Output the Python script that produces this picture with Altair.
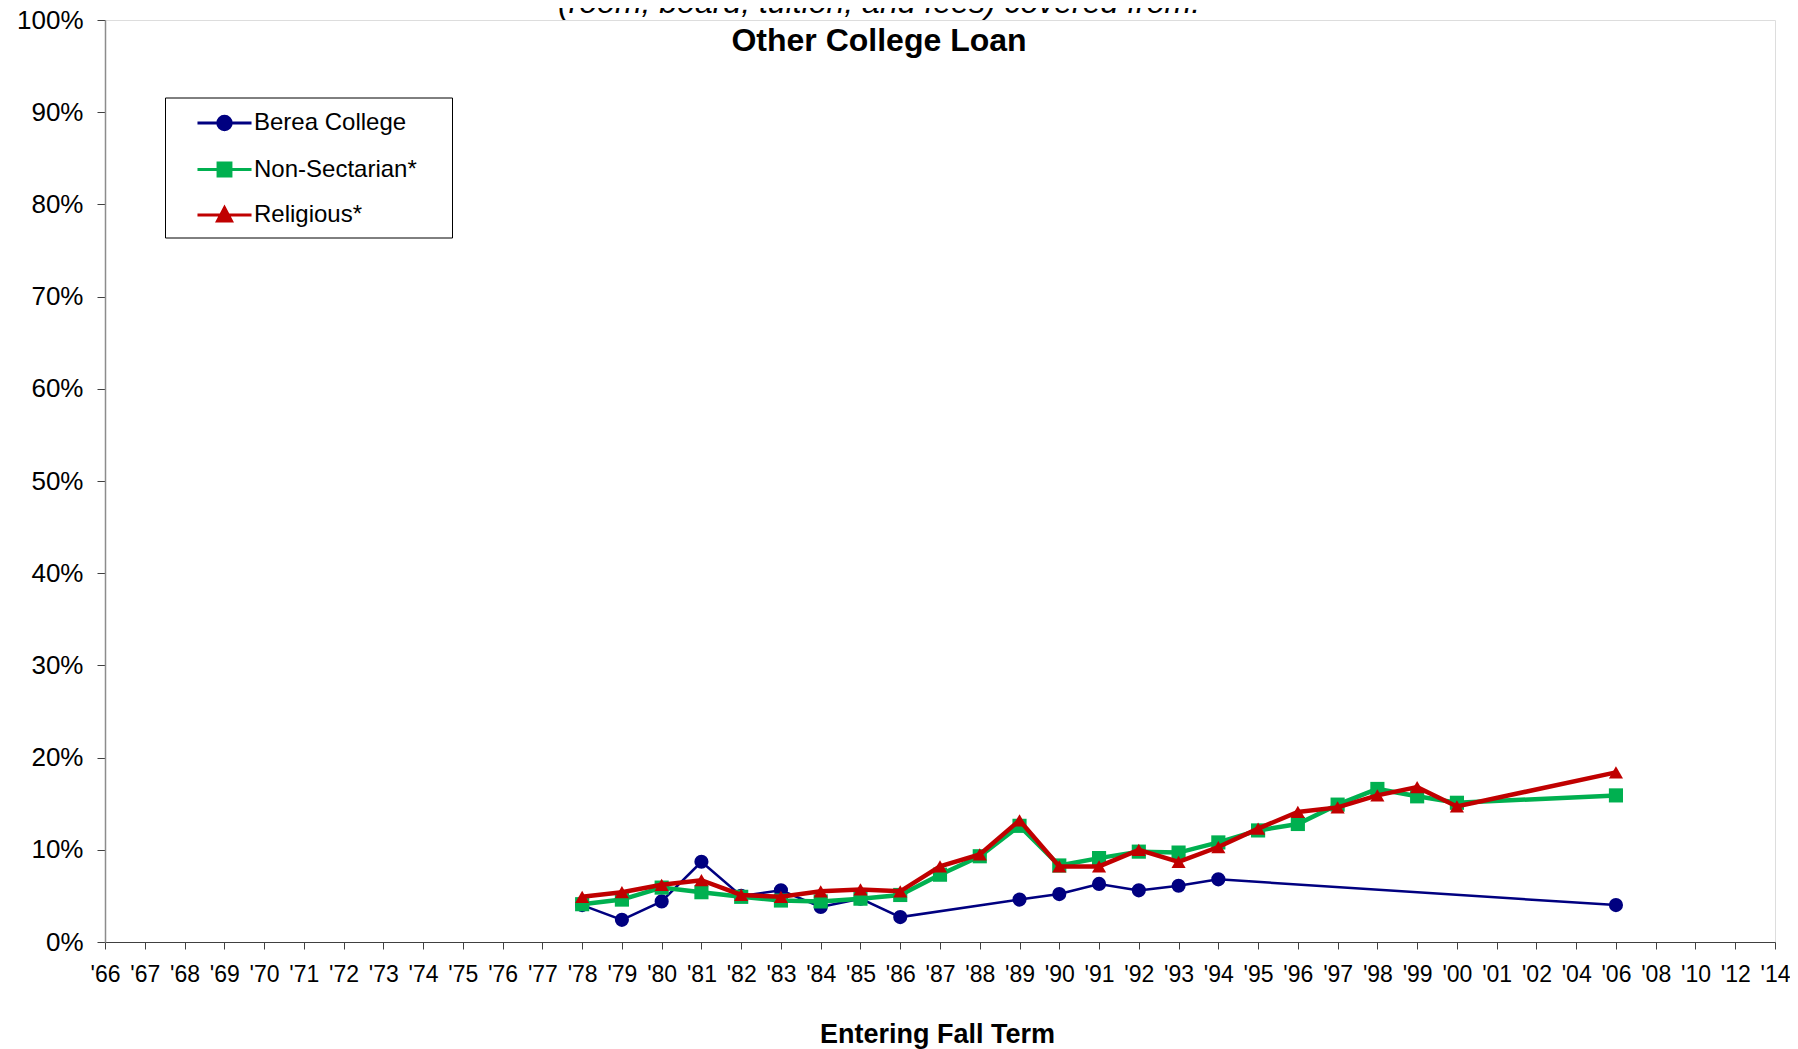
import altair as alt
import pandas as pd

# ---------------- data ----------------
year_labels = ["'66", "'67", "'68", "'69", "'70", "'71", "'72", "'73", "'74", "'75",
               "'76", "'77", "'78", "'79", "'80", "'81", "'82", "'83", "'84", "'85",
               "'86", "'87", "'88", "'89", "'90", "'91", "'92", "'93", "'94", "'95",
               "'96", "'97", "'98", "'99", "'00", "'01", "'02", "'04", "'06", "'08",
               "'10", "'12", "'14"]

data_years = ["'78", "'79", "'80", "'81", "'82", "'83", "'84", "'85", "'86", "'87",
              "'88", "'89", "'90", "'91", "'92", "'93", "'94", "'95", "'96", "'97",
              "'98", "'99", "'00", "'06"]

berea = [4.0, 2.4, 4.4, 8.7, 5.0, 5.6, 3.8, 4.7, 2.7, None,
         None, 4.6, 5.2, 6.3, 5.6, 6.1, 6.8, None, None, None,
         None, None, None, 4.0]
non_sectarian = [4.1, 4.6, 5.9, 5.4, 4.9, 4.5, 4.4, 4.7, 5.1, 7.3,
                 9.3, 12.6, 8.3, 9.1, 9.8, 9.7, 10.8, 12.1, 12.8, 14.9,
                 16.6, 15.8, 15.1, 15.9]
religious = [4.9, 5.4, 6.2, 6.7, 5.1, 4.9, 5.5, 5.7, 5.5, 8.2,
             9.5, 13.2, 8.2, 8.2, 10.0, 8.7, 10.3, 12.3, 14.1, 14.6,
             15.9, 16.8, 14.7, 18.4]

series_names = ["Berea College", "Non-Sectarian*", "Religious*"]
series_values = [berea, non_sectarian, religious]
series_colors = ["#000080", "#00B050", "#C00000"]
series_shapes = ["circle", "square", "triangle-up"]
series_widths = [2.5, 4.5, 4.5]

# legend symbols: a line with the marker on it (units of half the symbol size)
legend_paths = [
    "M-1.93,0H1.93M0.48,0A0.48,0.48,0,1,1,-0.48,0A0.48,0.48,0,1,1,0.48,0Z",
    "M-1.93,0H1.93M-0.46,-0.46H0.46V0.46H-0.46Z",
    "M-1.93,0H1.93M0,-0.52L0.5,0.42H-0.5Z",
]

rows = []
for name, vals in zip(series_names, series_values):
    for yr, v in zip(data_years, vals):
        if v is not None:
            rows.append({"series": name, "year": yr, "value": v})
df = pd.DataFrame(rows)

FONT = "Liberation Sans"

X = alt.X("year:O",
          scale=alt.Scale(type="point", domain=year_labels, padding=0),
          axis=alt.Axis(title="Entering Fall Term", labelAngle=0, labelOverlap=False,
                        labelFontSize=23, labelFont=FONT, labelColor="black",
                        labelPadding=14, tickSize=7, tickColor="#404040",
                        domainColor="#404040", domainWidth=1.2, grid=False,
                        titleFontSize=27, titleFont=FONT, titleFontWeight="bold",
                        titleColor="black", titlePadding=35, titleX=832,
                        titleAlign="center"))
Y = alt.Y("value:Q",
          scale=alt.Scale(domain=[0, 100], nice=False),
          axis=alt.Axis(title=None, values=list(range(0, 101, 10)),
                        labelExpr="datum.value + '%'", labelFontSize=26,
                        labelFont=FONT, labelColor="black", labelPadding=14,
                        tickSize=8, tickColor="#404040", domainColor="#8c8c8c",
                        domainWidth=1.5, grid=False))

layers = []
for name, color, shape, width in zip(series_names, series_colors, series_shapes, series_widths):
    base = alt.Chart(df).transform_filter(alt.datum.series == name)
    layers.append(base.mark_line(color=color, strokeWidth=width).encode(x=X, y=Y))
    layers.append(base.mark_point(filled=True, color=color, shape=shape, size=200,
                                  opacity=1).encode(x=X, y=Y))

leg = alt.Legend(title=None, orient="none", legendX=60, legendY=77.5,
                 strokeColor="black", fillColor="white", padding=10,
                 labelFontSize=24, labelFont=FONT, labelColor="black", labelLimit=0,
                 labelExpr="datum.label + '\u00a0\u00a0\u00a0\u2009\u200b'",
                 labelOffset=14, symbolOffset=34, rowPadding=17.5, symbolSize=784,
                 symbolStrokeWidth=3, symbolOpacity=1)

legend_layer = alt.Chart(df).mark_point(filled=True, opacity=0).encode(
    x=X, y=Y,
    color=alt.Color("series:N", scale=alt.Scale(domain=series_names, range=series_colors), legend=leg),
    stroke=alt.Stroke("series:N", scale=alt.Scale(domain=series_names, range=series_colors), legend=leg),
    shape=alt.Shape("series:N", scale=alt.Scale(domain=series_names, range=legend_paths), legend=leg),
)

title1 = alt.Chart(alt.Data(values=[{}])).mark_text(
    text="(room, board, tuition, and fees) covered from:", font=FONT, fontSize=32,
    fontStyle="italic", align="center", baseline="alphabetic", color="black"
).encode(x=alt.value(774), y=alt.value(-7))
title2 = alt.Chart(alt.Data(values=[{}])).mark_text(
    text="Other College Loan", font=FONT, fontSize=32, fontWeight="bold",
    align="center", baseline="alphabetic", color="black"
).encode(x=alt.value(774), y=alt.value(31))

chart = alt.layer(*layers, legend_layer, title1, title2).properties(
    width=1670, height=922,
    autosize=alt.AutoSizeParams(type="none"),
    padding={"left": 97, "top": 12, "right": 15, "bottom": 110},
).configure_view(stroke=None).configure(font=FONT)

chart.save("out.html", embed_options={"renderer": "svg", "actions": False})
